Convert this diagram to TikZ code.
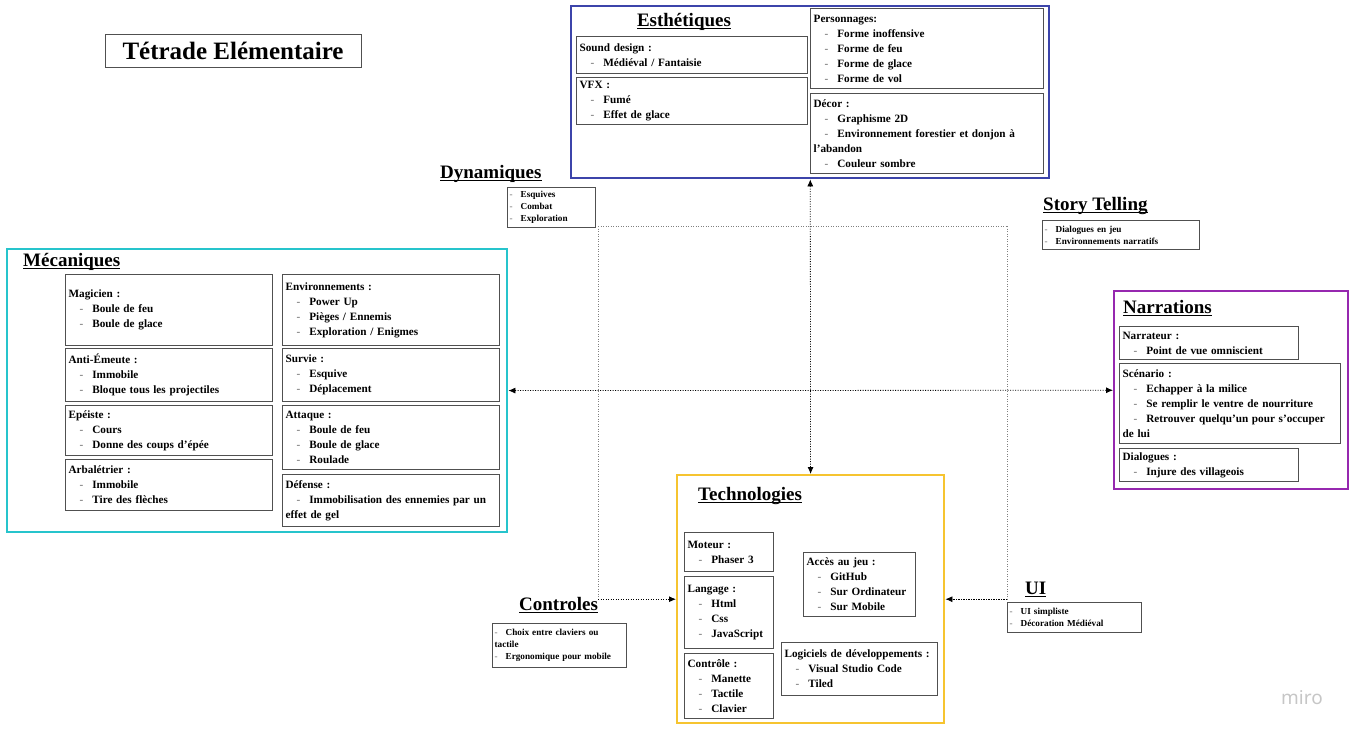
\documentclass[tikz,border=0pt]{standalone}
\usepackage{fontspec}
\setmainfont{Liberation Serif}
\setsansfont{Noto Sans}
\usepackage{tikz}
\usetikzlibrary{arrows.meta,calc}

\definecolor{esthblue}{RGB}{60,68,170}
\definecolor{mecacyan}{RGB}{38,196,204}
\definecolor{narrpurple}{RGB}{150,40,175}
\definecolor{techyellow}{RGB}{246,196,48}
\definecolor{boxgray}{RGB}{80,80,80}

\newcommand{\tiret}{\hspace*{11pt}\textcolor{gray}{-}\hspace*{9pt}}
\newcommand{\ptiret}{\textcolor{gray}{-}\hspace*{8pt}}
\newcommand{\souligne}[1]{\setbox0\hbox{#1}\rlap{\rule[-2.8pt]{\wd0}{1pt}}\box0}

\tikzset{
  >={Latex[length=7pt,width=6pt]},
  outbox/.style={draw=#1, line width=2.4pt, anchor=north west, inner sep=0pt},
  inbox/.style={draw=boxgray, line width=1.3pt, anchor=north west, align=left,
    inner xsep=3pt, inner ysep=0pt, font=\bfseries\fontsize{11.2}{15}\selectfont},
  listbox/.style={draw=boxgray, line width=1.2pt, anchor=north west, align=left,
    inner xsep=2pt, inner ysep=0pt, font=\bfseries\fontsize{9.2}{12}\selectfont},
  heading/.style={anchor=base west, inner sep=0pt, font=\bfseries\fontsize{19}{22}\selectfont},
  link/.style={black, line width=0.8pt, dash pattern=on 1.2pt off 1.3pt},
  glink/.style={gray, line width=0.8pt, dash pattern=on 1.2pt off 1.3pt}
}

\begin{document}
\begin{tikzpicture}[x=1pt,y=-1pt]
\useasboundingbox (0,0) rectangle (1355,737);

%% Titre
\node[draw=boxgray, line width=0.9pt, minimum width=256pt, minimum height=33pt,
  font=\bfseries\fontsize{25}{27}\selectfont] (titre) at (233,50.5) {Tétrade Elémentaire};

%% Esthetiques
\node[outbox=esthblue, minimum width=478pt, minimum height=172pt] (esth) at (570,5) {};
\node[heading, anchor=base] (esthtitre) at (684,26) {\souligne{Esthétiques}};
\node[inbox, text width=225pt, minimum height=37pt] (sound) at (576,36)
  {Sound design :\\ \tiret Médiéval / Fantaisie};
\node[inbox, text width=225pt, minimum height=47pt] (vfx) at (576,77)
  {VFX :\\ \tiret Fumé\\ \tiret Effet de glace};
\node[inbox, text width=227pt, minimum height=80pt] (perso) at (810,8)
  {Personnages:\\ \tiret Forme inoffensive\\ \tiret Forme de feu\\ \tiret Forme de glace\\ \tiret Forme de vol};
\node[inbox, text width=227pt, minimum height=80pt] (decor) at (810,93)
  {Décor :\\ \tiret Graphisme 2D\\ \tiret Environnement forestier et donjon à\\ l'abandon\\ \tiret Couleur sombre};

%% Mecaniques
\node[outbox=mecacyan, minimum width=500pt, minimum height=283pt] (meca) at (6,248) {};
\node[heading] (mecatitre) at (23,266) {\souligne{Mécaniques}};
\node[inbox, text width=201pt, minimum height=71pt] (magicien) at (65,274)
  {Magicien :\\ \tiret Boule de feu\\ \tiret Boule de glace};
\node[inbox, text width=201pt, minimum height=53pt] (antiemeute) at (65,348)
  {Anti-Émeute :\\ \tiret Immobile\\ \tiret Bloque tous les projectiles};
\node[inbox, text width=201pt, minimum height=50pt] (epeiste) at (65,405)
  {Epéiste :\\ \tiret Cours\\ \tiret Donne des coups d'épée};
\node[inbox, text width=201pt, minimum height=51pt] (arbaletrier) at (65,459)
  {Arbalétrier :\\ \tiret Immobile\\ \tiret Tire des flèches};
\node[inbox, text width=211pt, minimum height=71pt] (environ) at (282,274)
  {Environnements :\\ \tiret Power Up\\ \tiret Pièges / Ennemis\\ \tiret Exploration / Enigmes};
\node[inbox, text width=211pt, minimum height=53pt] (survie) at (282,348)
  {Survie :\\ \tiret Esquive\\ \tiret Déplacement};
\node[inbox, text width=211pt, minimum height=64pt] (attaque) at (282,405)
  {Attaque :\\ \tiret Boule de feu\\ \tiret Boule de glace\\ \tiret Roulade};
\node[inbox, text width=211pt, minimum height=52pt] (defense) at (282,474)
  {Défense :\\ \tiret Immobilisation des ennemies par un\\ effet de gel};

%% Dynamiques
\node[heading] (dyntitre) at (440,178) {\souligne{Dynamiques}};
\node[listbox, text width=84pt, minimum height=40pt] (dynliste) at (507,187)
  {\ptiret Esquives\\ \ptiret Combat\\ \ptiret Exploration};

%% Story Telling
\node[heading] (storytitre) at (1043,210) {\souligne{Story Telling}};
\node[listbox, text width=153pt, minimum height=29pt] (storyliste) at (1042,220)
  {\ptiret Dialogues en jeu\\ \ptiret Environnements narratifs};

%% Narrations
\node[outbox=narrpurple, minimum width=234pt, minimum height=198pt] (narr) at (1113,290) {};
\node[heading] (narrtitre) at (1123,313) {\souligne{Narrations}};
\node[inbox, text width=173pt, minimum height=33pt] (narrateur) at (1119,326)
  {Narrateur :\\ \tiret Point de vue omniscient};
\node[inbox, text width=215pt, minimum height=80pt] (scenario) at (1119,363)
  {Scénario :\\ \tiret Echapper à la milice\\ \tiret Se remplir le ventre de nourriture\\ \tiret Retrouver quelqu'un pour s'occuper\\ de lui};
\node[inbox, text width=173pt, minimum height=33pt] (dialogues) at (1119,448)
  {Dialogues :\\ \tiret Injure des villageois};

%% Technologies
\node[outbox=techyellow, minimum width=267pt, minimum height=248pt] (tech) at (676,474) {};
\node[heading] (techtitre) at (698,500) {\souligne{Technologies}};
\node[inbox, text width=83pt, minimum height=39pt] (moteur) at (684,532)
  {Moteur :\\ \tiret Phaser 3};
\node[inbox, text width=83pt, minimum height=72pt] (langage) at (684,576)
  {Langage :\\ \tiret Html\\ \tiret Css\\ \tiret JavaScript};
\node[inbox, text width=83pt, minimum height=65pt] (controle) at (684,653)
  {Contrôle :\\ \tiret Manette\\ \tiret Tactile\\ \tiret Clavier};
\node[inbox, text width=106pt, minimum height=64pt] (acces) at (803,552)
  {Accès au jeu :\\ \tiret GitHub\\ \tiret Sur Ordinateur\\ \tiret Sur Mobile};
\node[inbox, text width=150pt, minimum height=53pt] (logiciels) at (781,642)
  {Logiciels de développements :\\ \tiret Visual Studio Code\\ \tiret Tiled};

%% Controles
\node[heading] (controltitre) at (519,610) {\souligne{Controles}};
\node[listbox, text width=130pt, minimum height=44pt] (controlliste) at (492,623)
  {\ptiret Choix entre claviers ou\\ tactile\\ \ptiret Ergonomique pour mobile};

%% UI
\node[heading] (uititre) at (1025,594) {\souligne{UI}};
\node[listbox, text width=130pt, minimum height=30pt] (uiliste) at (1007,602)
  {\ptiret UI simpliste\\ \ptiret Décoration Médiéval};

%% Liens
\coordinate (dyncoin) at (598,226);
\coordinate (storycoin) at (1007,226);
\draw[glink] (dyncoin) -- (storycoin);
\draw[glink] (dyncoin) -- (dyncoin |- tech.west);
\draw[glink] (storycoin) -- (storycoin |- tech.west);
\draw[link, ->] (dyncoin |- tech.west) -- (tech.west);
\draw[link, ->] (storycoin |- tech.west) -- (tech.east);
\draw[link, <->] (esth) -- (tech);
\draw[link, <->] (meca) -- (narr);

\node[font=\sffamily\fontsize{19}{19}\selectfont, text=gray!45] (miro) at (1302,698) {miro};
\end{tikzpicture}
\end{document}
